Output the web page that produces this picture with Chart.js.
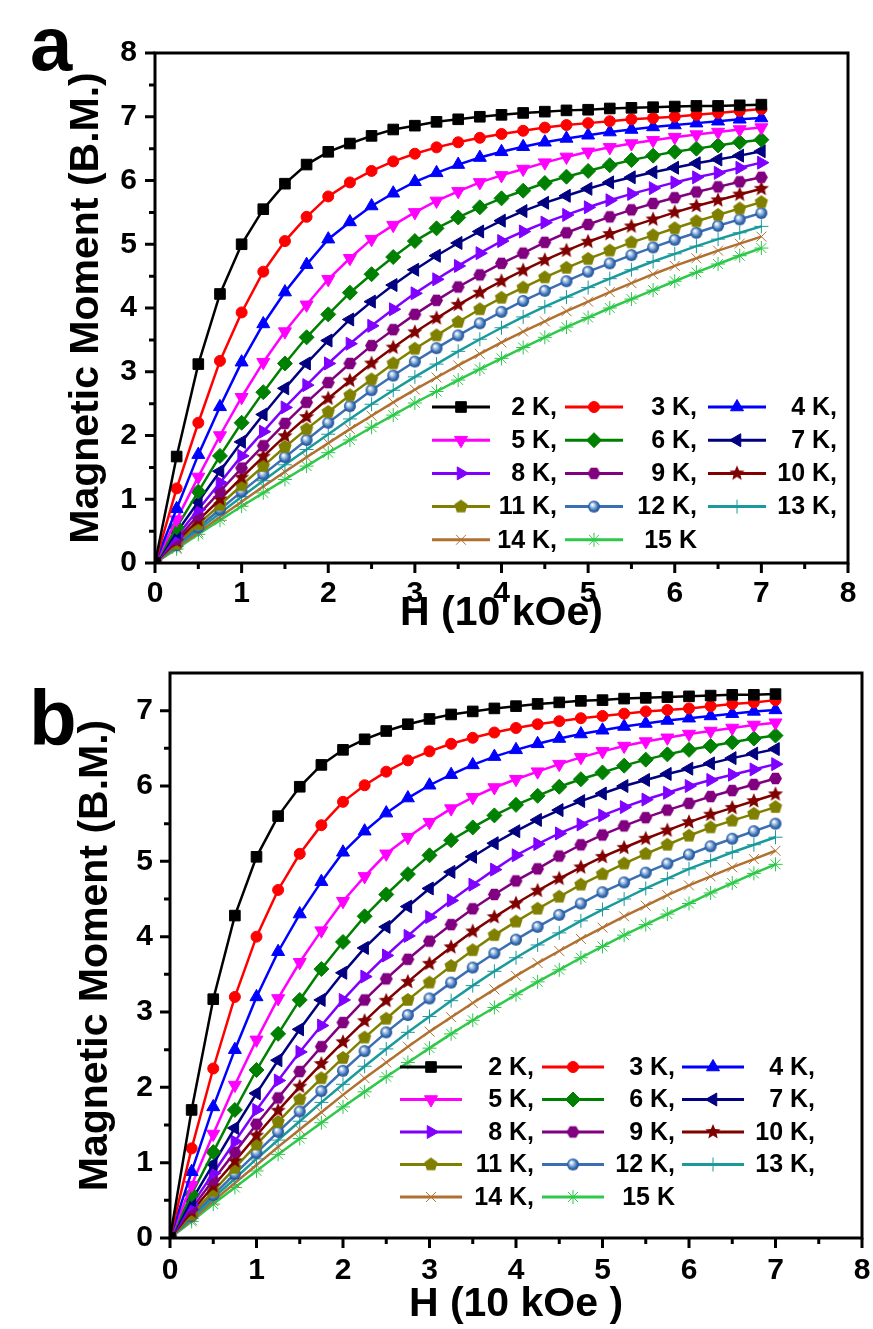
<!DOCTYPE html>
<html>
<head>
<meta charset="utf-8">
<script src="https://cdn.jsdelivr.net/npm/chart.js@4.4.1/dist/chart.umd.min.js"></script>
<style>
  body { margin: 0; background: #fff; width: 873px; height: 1329px; position: relative; overflow: hidden; font-family: "Liberation Sans", Arial, sans-serif; }
  canvas { position: absolute; left: 0; }
  #chartA { top: 0; }
  #chartB { top: 650px; }
  .panel-letter { position: absolute; font-weight: bold; line-height: 1; color: #000; }
</style>
</head>
<body>
<canvas id="chartA" width="873" height="650"></canvas>
<canvas id="chartB" width="873" height="679"></canvas>
<div class="panel-letter" style="left:30px; top:6px; font-size:76px;">a</div>
<div class="panel-letter" style="left:29px; top:679px; font-size:78px;">b</div>
<script>
// 1) Data (read off the figure)

const fields = [0, 0.25, 0.5, 0.75, 1, 1.25, 1.5, 1.75, 2, 2.25, 2.5, 2.75, 3, 3.25, 3.5,
    3.75, 4, 4.25, 4.5, 4.75, 5, 5.25, 5.5, 5.75, 6, 6.25, 6.5, 6.75, 7];

const temperatures = [2, 3, 4, 5, 6, 7, 8, 9, 10, 11, 12, 13, 14, 15];

const xTicks = [0, 1, 2, 3, 4, 5, 6, 7, 8];
const yTicksA = [0, 1, 2, 3, 4, 5, 6, 7, 8];
const yTicksB = [0, 1, 2, 3, 4, 5, 6, 7];

// panel a
const a2K = [0, 1.67, 3.12, 4.22, 5.0, 5.55, 5.95, 6.25, 6.45, 6.58, 6.7, 6.8, 6.86, 6.92, 6.96, 7.0, 7.03, 7.06, 7.08, 7.1, 7.11, 7.13, 7.14, 7.15, 7.16, 7.17, 7.17, 7.18, 7.19];
const a3K = [0, 1.17, 2.2, 3.17, 3.93, 4.57, 5.05, 5.43, 5.75, 5.97, 6.15, 6.3, 6.42, 6.52, 6.6, 6.67, 6.73, 6.78, 6.83, 6.87, 6.9, 6.93, 6.96, 6.98, 7.0, 7.03, 7.06, 7.09, 7.12];
const a4K = [0, 0.85, 1.7, 2.45, 3.15, 3.75, 4.25, 4.68, 5.08, 5.35, 5.6, 5.8, 5.98, 6.12, 6.25, 6.36, 6.45, 6.53, 6.6, 6.66, 6.71, 6.76, 6.8, 6.84, 6.87, 6.9, 6.93, 6.96, 6.98];
const a5K = [0, 0.68, 1.35, 2.0, 2.6, 3.15, 3.63, 4.05, 4.45, 4.78, 5.08, 5.3, 5.5, 5.68, 5.83, 5.97, 6.08, 6.18, 6.28, 6.37, 6.45, 6.52, 6.58, 6.63, 6.68, 6.72, 6.76, 6.8, 6.83];
const a6K = [0, 0.56, 1.12, 1.68, 2.2, 2.68, 3.13, 3.54, 3.9, 4.24, 4.53, 4.8, 5.05, 5.25, 5.42, 5.58, 5.72, 5.84, 5.96, 6.06, 6.15, 6.24, 6.32, 6.39, 6.45, 6.5, 6.55, 6.6, 6.64];
const a7K = [0, 0.48, 0.96, 1.44, 1.9, 2.33, 2.74, 3.13, 3.49, 3.82, 4.1, 4.36, 4.6, 4.82, 5.02, 5.2, 5.37, 5.52, 5.65, 5.76, 5.87, 5.97, 6.05, 6.13, 6.2, 6.27, 6.33, 6.39, 6.46];
const a8K = [0, 0.42, 0.84, 1.26, 1.68, 2.06, 2.44, 2.79, 3.13, 3.44, 3.72, 3.98, 4.23, 4.45, 4.66, 4.86, 5.05, 5.2, 5.34, 5.46, 5.58, 5.69, 5.79, 5.88, 5.97, 6.05, 6.12, 6.2, 6.28];
const a9K = [0, 0.37, 0.75, 1.12, 1.49, 1.84, 2.19, 2.52, 2.83, 3.13, 3.41, 3.66, 3.9, 4.12, 4.33, 4.52, 4.7, 4.86, 5.03, 5.18, 5.31, 5.43, 5.54, 5.64, 5.73, 5.82, 5.9, 5.98, 6.05];
const a10K = [0, 0.34, 0.67, 1.0, 1.34, 1.67, 1.99, 2.29, 2.58, 2.86, 3.13, 3.38, 3.62, 3.84, 4.05, 4.24, 4.42, 4.59, 4.75, 4.9, 5.04, 5.16, 5.28, 5.39, 5.5, 5.6, 5.69, 5.78, 5.87];
const a11K = [0, 0.3, 0.61, 0.91, 1.22, 1.52, 1.82, 2.1, 2.37, 2.63, 2.88, 3.13, 3.36, 3.57, 3.78, 3.98, 4.16, 4.32, 4.48, 4.63, 4.77, 4.9, 5.03, 5.14, 5.25, 5.36, 5.46, 5.56, 5.66];
const a12K = [0, 0.28, 0.56, 0.84, 1.12, 1.39, 1.66, 1.93, 2.2, 2.46, 2.71, 2.94, 3.16, 3.37, 3.57, 3.76, 3.94, 4.11, 4.27, 4.42, 4.57, 4.7, 4.83, 4.95, 5.07, 5.18, 5.29, 5.39, 5.49];
const a13K = [0, 0.26, 0.52, 0.78, 1.04, 1.29, 1.54, 1.78, 2.02, 2.26, 2.49, 2.71, 2.92, 3.12, 3.32, 3.51, 3.69, 3.86, 4.02, 4.17, 4.32, 4.46, 4.6, 4.73, 4.85, 4.97, 5.08, 5.18, 5.28];
const a14K = [0, 0.24, 0.48, 0.72, 0.96, 1.2, 1.43, 1.66, 1.88, 2.1, 2.31, 2.52, 2.72, 2.91, 3.1, 3.28, 3.46, 3.63, 3.79, 3.95, 4.1, 4.25, 4.39, 4.53, 4.66, 4.78, 4.9, 5.01, 5.12];
const a15K = [0, 0.22, 0.45, 0.67, 0.89, 1.1, 1.31, 1.52, 1.73, 1.93, 2.13, 2.32, 2.51, 2.69, 2.87, 3.04, 3.21, 3.38, 3.54, 3.7, 3.85, 4.0, 4.14, 4.28, 4.42, 4.56, 4.69, 4.82, 4.94];

// panel b
const b2K = [0, 1.7, 3.17, 4.28, 5.06, 5.6, 5.99, 6.28, 6.48, 6.62, 6.73, 6.82, 6.89, 6.95, 6.99, 7.03, 7.06, 7.09, 7.11, 7.13, 7.14, 7.16, 7.17, 7.18, 7.19, 7.2, 7.21, 7.21, 7.22];
const b3K = [0, 1.19, 2.25, 3.2, 4.0, 4.62, 5.1, 5.48, 5.79, 6.01, 6.19, 6.34, 6.46, 6.56, 6.64, 6.71, 6.77, 6.82, 6.86, 6.9, 6.93, 6.96, 6.99, 7.01, 7.03, 7.06, 7.09, 7.11, 7.14];
const b4K = [0, 0.88, 1.74, 2.5, 3.2, 3.8, 4.3, 4.73, 5.12, 5.4, 5.64, 5.84, 6.01, 6.15, 6.28, 6.39, 6.48, 6.56, 6.63, 6.69, 6.74, 6.79, 6.83, 6.87, 6.9, 6.93, 6.96, 6.99, 7.01];
const b5K = [0, 0.7, 1.38, 2.03, 2.63, 3.18, 3.66, 4.08, 4.47, 4.8, 5.1, 5.32, 5.52, 5.7, 5.85, 5.98, 6.09, 6.19, 6.29, 6.38, 6.46, 6.53, 6.59, 6.64, 6.69, 6.73, 6.77, 6.81, 6.84];
const b6K = [0, 0.58, 1.14, 1.7, 2.23, 2.71, 3.16, 3.57, 3.93, 4.27, 4.56, 4.83, 5.08, 5.28, 5.45, 5.61, 5.75, 5.87, 5.99, 6.09, 6.18, 6.27, 6.35, 6.42, 6.48, 6.53, 6.58, 6.63, 6.67];
const b7K = [0, 0.5, 0.98, 1.46, 1.92, 2.36, 2.77, 3.16, 3.52, 3.85, 4.13, 4.4, 4.64, 4.86, 5.06, 5.24, 5.4, 5.55, 5.68, 5.8, 5.9, 6.0, 6.08, 6.16, 6.23, 6.3, 6.37, 6.43, 6.49];
const b8K = [0, 0.44, 0.86, 1.28, 1.7, 2.09, 2.47, 2.82, 3.16, 3.47, 3.75, 4.01, 4.26, 4.48, 4.69, 4.89, 5.08, 5.23, 5.37, 5.49, 5.61, 5.72, 5.82, 5.91, 6.0, 6.08, 6.15, 6.22, 6.29];
const b9K = [0, 0.39, 0.77, 1.14, 1.51, 1.86, 2.21, 2.54, 2.86, 3.16, 3.44, 3.7, 3.94, 4.16, 4.37, 4.56, 4.74, 4.9, 5.07, 5.22, 5.35, 5.47, 5.58, 5.68, 5.77, 5.86, 5.94, 6.02, 6.1];
const b10K = [0, 0.35, 0.69, 1.02, 1.36, 1.69, 2.01, 2.31, 2.6, 2.88, 3.15, 3.4, 3.64, 3.86, 4.07, 4.26, 4.44, 4.61, 4.77, 4.92, 5.06, 5.18, 5.3, 5.41, 5.52, 5.62, 5.71, 5.8, 5.89];
const b11K = [0, 0.31, 0.62, 0.93, 1.24, 1.54, 1.84, 2.12, 2.39, 2.66, 2.91, 3.16, 3.39, 3.61, 3.82, 4.02, 4.2, 4.37, 4.53, 4.69, 4.83, 4.97, 5.1, 5.22, 5.34, 5.45, 5.54, 5.63, 5.72];
const b12K = [0, 0.29, 0.57, 0.85, 1.13, 1.41, 1.68, 1.95, 2.22, 2.48, 2.73, 2.96, 3.18, 3.39, 3.59, 3.78, 3.96, 4.13, 4.29, 4.44, 4.59, 4.72, 4.85, 4.97, 5.09, 5.2, 5.3, 5.4, 5.5];
const b13K = [0, 0.26, 0.53, 0.79, 1.05, 1.3, 1.55, 1.8, 2.04, 2.28, 2.51, 2.73, 2.94, 3.15, 3.35, 3.54, 3.72, 3.89, 4.05, 4.21, 4.36, 4.5, 4.64, 4.77, 4.9, 5.01, 5.12, 5.22, 5.32];
const b14K = [0, 0.24, 0.49, 0.73, 0.97, 1.21, 1.44, 1.67, 1.9, 2.12, 2.33, 2.54, 2.74, 2.93, 3.12, 3.3, 3.48, 3.65, 3.81, 3.97, 4.12, 4.27, 4.41, 4.55, 4.68, 4.8, 4.92, 5.03, 5.14];
const b15K = [0, 0.22, 0.45, 0.67, 0.89, 1.11, 1.32, 1.53, 1.74, 1.94, 2.14, 2.33, 2.52, 2.71, 2.89, 3.06, 3.23, 3.4, 3.56, 3.72, 3.87, 4.02, 4.16, 4.3, 4.44, 4.58, 4.71, 4.84, 4.96];

const seriesA = [a2K, a3K, a4K, a5K, a6K, a7K, a8K, a9K, a10K, a11K, a12K, a13K, a14K, a15K];
const seriesB = [b2K, b3K, b4K, b5K, b6K, b7K, b8K, b9K, b10K, b11K, b12K, b13K, b14K, b15K];


// 2) Look

const colors = ["#000000", "#ff0000", "#0000ff", "#ff00ff", "#008000", "#000080", "#8000ff",
    "#800080", "#800000", "#808000", "#3a6fb5", "#1a9a9a", "#b07030", "#2ec84a"];

const FONT = "'Liberation Sans', Arial, sans-serif";

function polygonMarker(color, sides, r, startAngle, inner) {
    const size = Math.ceil(r * 2 + 2);
    const c = document.createElement("canvas");
    c.width = size;
    c.height = size;
    const ctx = c.getContext("2d");
    ctx.translate(size / 2, size / 2);
    const n = inner ? sides * 2 : sides;
    ctx.beginPath();
    for (let i = 0; i < n; i++) {
        const rr = inner && i % 2 ? r * inner : r;
        const a = startAngle + i * Math.PI * 2 / n;
        if (i === 0) ctx.moveTo(rr * Math.cos(a), rr * Math.sin(a));
        else ctx.lineTo(rr * Math.cos(a), rr * Math.sin(a));
    }
    ctx.closePath();
    ctx.fillStyle = color;
    ctx.fill();
    return c;
}

function sphereMarker(color, r) {
    const size = Math.ceil(r * 2 + 2);
    const c = document.createElement("canvas");
    c.width = size;
    c.height = size;
    const ctx = c.getContext("2d");
    const m = size / 2;
    const g = ctx.createRadialGradient(m - r * 0.3, m - r * 0.35, 0.5, m, m, r);
    g.addColorStop(0, "#ffffff");
    g.addColorStop(0.35, "#9bbbe0");
    g.addColorStop(0.7, color);
    g.addColorStop(1, "#1f4f8f");
    ctx.beginPath();
    ctx.arc(m, m, r, 0, Math.PI * 2);
    ctx.fillStyle = g;
    ctx.fill();
    return c;
}

const markers = [
    { style: "rect", radius: 7.5, border: 1 },
    { style: "circle", radius: 5.5, border: 1 },
    { style: "triangle", radius: 7.5, border: 1 },
    { style: "triangle", radius: 7.5, border: 1, rotation: 180 },
    { style: "rectRot", radius: 7.5, border: 1 },
    { style: "triangle", radius: 7.5, border: 1, rotation: -90 },
    { style: "triangle", radius: 7.5, border: 1, rotation: 90 },
    { style: polygonMarker(colors[7], 6, 6.5, 0), radius: 6.5, border: 0 },
    { style: polygonMarker(colors[8], 5, 8, -Math.PI / 2, 0.45), radius: 8, border: 0 },
    { style: polygonMarker(colors[9], 5, 7, -Math.PI / 2), radius: 7, border: 0 },
    { style: sphereMarker(colors[10], 6), radius: 6, border: 0 },
    { style: "cross", radius: 7, border: 1 },
    { style: "crossRot", radius: 7, border: 1 },
    { style: "star", radius: 7, border: 1 }
];


// 3) Plugins: frame with outward ticks, in-plot legend

const frameTicks = {
    id: "frameTicks",
    afterDraw(chart, args, opts) {
        const { ctx, chartArea: area, scales: { x, y } } = chart;
        ctx.save();
        ctx.strokeStyle = "#000";
        ctx.lineWidth = 3;
        ctx.strokeRect(area.left, area.top, area.right - area.left, area.bottom - area.top);

        ctx.beginPath();
        const marks = (ticks) => {
            const out = [];
            ticks.forEach((t, i) => {
                out.push({ v: t, len: 10 });
                if (i < ticks.length - 1) out.push({ v: (t + ticks[i + 1]) / 2, len: 6 });
            });
            return out;
        };
        marks(opts.xTicks).forEach((m) => {
            const px = x.getPixelForValue(m.v);
            ctx.moveTo(px, area.bottom);
            ctx.lineTo(px, area.bottom + m.len);
        });
        marks(opts.yTicks).forEach((m) => {
            const py = y.getPixelForValue(m.v);
            ctx.moveTo(area.left, py);
            ctx.lineTo(area.left - m.len, py);
        });
        ctx.stroke();
        ctx.restore();
    }
};

const cornerLegend = {
    id: "cornerLegend",
    afterDraw(chart, args, opts) {
        const ctx = chart.ctx;
        ctx.save();
        ctx.font = "bold 25px " + FONT;
        ctx.textAlign = "right";
        ctx.textBaseline = "middle";
        chart.data.datasets.forEach((ds, i) => {
            const col = i % 3;
            const row = Math.floor(i / 3);
            const x0 = opts.lineX[col];
            const yy = opts.y0 + row * opts.rowStep;
            ctx.strokeStyle = ds.borderColor;
            ctx.fillStyle = ds.borderColor;
            ctx.lineWidth = 3;
            ctx.beginPath();
            ctx.moveTo(x0, yy);
            ctx.lineTo(x0 + opts.lineLen, yy);
            ctx.stroke();
            ctx.lineWidth = ds.pointBorderWidth;
            Chart.helpers.drawPoint(ctx, {
                pointStyle: ds.pointStyle,
                rotation: ds.pointRotation,
                radius: ds.pointRadius,
                borderWidth: ds.pointBorderWidth
            }, x0 + opts.lineLen / 2, yy);
            ctx.fillStyle = "#000";
            const last = i === chart.data.datasets.length - 1;
            ctx.fillText(ds.label + (last ? "" : ","), opts.textRight[col], yy + 1);
        });
        ctx.restore();
    }
};


// 4) Build a panel

function buildPanel(canvasId, series, yTicks, yMax, xTitle, layout) {

    const datasets = series.map((values, i) => ({
        label: temperatures[i] + " K",
        data: values.map((v, j) => ({ x: fields[j], y: v })),
        borderColor: colors[i],
        backgroundColor: colors[i],
        borderWidth: 2.5,
        pointStyle: markers[i].style,
        pointRotation: markers[i].rotation || 0,
        pointRadius: markers[i].radius,
        pointBorderWidth: markers[i].border,
        pointBackgroundColor: colors[i],
        pointBorderColor: colors[i],
        tension: 0
    }));

    const tickFont = { family: FONT, size: 30, weight: "bold" };
    const titleFont = { family: FONT, size: 41, weight: "bold" };

    return new Chart(document.getElementById(canvasId), {
        type: "line",
        data: { datasets: datasets },
        options: {
            responsive: false,
            animation: false,
            devicePixelRatio: 1,
            layout: { padding: layout.padding },
            plugins: {
                legend: { display: false },
                tooltip: { enabled: false },
                frameTicks: { xTicks: xTicks, yTicks: yTicks },
                cornerLegend: layout.legend
            },
            scales: {
                x: {
                    type: "linear",
                    min: xTicks[0],
                    max: xTicks[xTicks.length - 1],
                    afterBuildTicks: (s) => { s.ticks = xTicks.map((v) => ({ value: v })); },
                    afterFit: (s) => {
                        s.height = layout.xHeight;
                        s.paddingLeft = 0;
                        s.paddingRight = 0;
                    },
                    grid: { display: false, drawTicks: false },
                    border: { display: false },
                    ticks: { color: "#000", font: tickFont, padding: layout.xLabelPad, maxRotation: 0, autoSkip: false },
                    title: { display: true, text: xTitle, color: "#000", font: titleFont, padding: { top: 0, bottom: layout.xTitlePad } }
                },
                y: {
                    type: "linear",
                    min: yTicks[0],
                    max: yMax,
                    afterBuildTicks: (s) => { s.ticks = yTicks.map((v) => ({ value: v })); },
                    afterFit: (s) => {
                        s.width = layout.yWidth;
                        s.paddingTop = 0;
                        s.paddingBottom = 0;
                    },
                    grid: { display: false, drawTicks: false },
                    border: { display: false },
                    ticks: { color: "#000", font: tickFont, padding: layout.yLabelPad, autoSkip: false },
                    title: { display: true, text: "Magnetic Moment (B.M.)", color: "#000", font: titleFont, padding: { top: layout.yTitlePad, bottom: 0 } }
                }
            }
        },
        plugins: [frameTicks, cornerLegend]
    });
}

buildPanel("chartA", seriesA, yTicksA, 8, "H (10 kOe)", {
    padding: { top: 53, right: 25, bottom: 0, left: 0 },
    xHeight: 87, yWidth: 155,
    xLabelPad: 13, yLabelPad: 18,
    xTitlePad: 12, yTitlePad: 62,
    legend: { lineX: [432, 565, 708], textRight: [557, 697, 837], lineLen: 58, y0: 407, rowStep: 33.2 }
});

buildPanel("chartB", seriesB, yTicksB, 7.5, "H (10 kOe )", {
    padding: { top: 23, right: 11, bottom: 0, left: 0 },
    xHeight: 91, yWidth: 170,
    xLabelPad: 15, yLabelPad: 17,
    xTitlePad: 0, yTitlePad: 71,
    legend: { lineX: [400, 542, 682], textRight: [534, 675, 815], lineLen: 62, y0: 417, rowStep: 32.5 }
});
</script>
</body>
</html>
